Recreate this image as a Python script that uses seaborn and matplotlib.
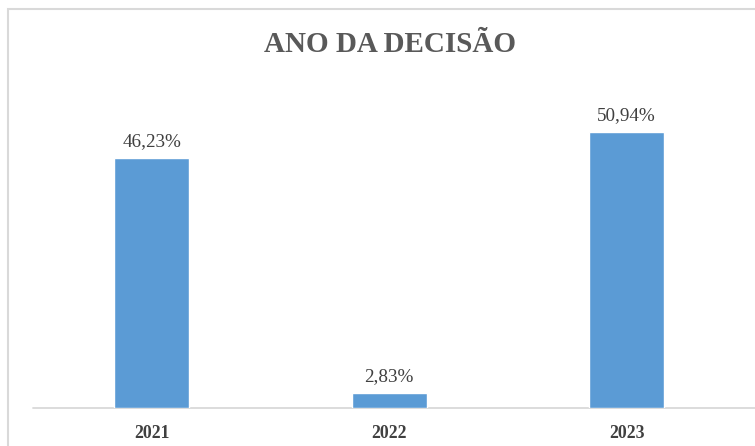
import pandas as pd
import matplotlib.pyplot as plt
from matplotlib.patches import Rectangle
import seaborn as sns

# Ano da decisão - percentual por ano
anos = ['2021', '2022', '2023']
percentuais = [46.23, 2.83, 50.94]
rotulos = ['46,23%', '2,83%', '50,94%']

df = pd.DataFrame({'ano': anos, 'pct': percentuais})

sns.set_theme(style='white')
plt.rcParams['font.family'] = ['Liberation Serif', 'DejaVu Serif']

fig = plt.figure(figsize=(7.55, 4.46), dpi=100)
ax = fig.add_axes([0.0437, 0.0852, 0.9437, 0.7287])

sns.barplot(data=df, x='ano', y='pct', color='#5b9bd5', saturation=1,
            width=0.316, ax=ax)

for i, txt in enumerate(rotulos):
    ax.annotate(txt, (i, percentuais[i]), xytext=(0, 5.5), textcoords='offset points',
                ha='center', va='bottom', fontsize=13.8, color='#404040')

ax.set_xlim(-0.5, 2.5)
ax.set_ylim(0, 60)
ax.set_xlabel('')
ax.set_ylabel('')
ax.set_yticks([])
for s in ['top', 'right', 'left']:
    ax.spines[s].set_visible(False)
ax.spines['bottom'].set_visible(False)
ax.tick_params(axis='x', length=0, pad=12)
for lab in ax.get_xticklabels():
    lab.set_fontsize(12.8)
    lab.set_fontweight('bold')
    lab.set_color('#404040')

# linha de base, até a borda direita
ax.axhline(0, xmin=0, xmax=1.02, color='#d9d9d9', linewidth=1.3, clip_on=False, zorder=0)

fig.text(0.517, 0.9, 'ANO DA DECISÃO', ha='center', va='center',
         fontsize=21, fontweight='bold', color='#595959')

# moldura do gráfico (cortada à direita e embaixo)
fig.add_artist(Rectangle((8 / 755, -0.1), 1.2, 1.1 - 9 / 446,
                         transform=fig.transFigure, fill=False,
                         edgecolor='#d9d9d9', linewidth=1.5))

fig.savefig('out.png', dpi=100)
plt.close(fig)
